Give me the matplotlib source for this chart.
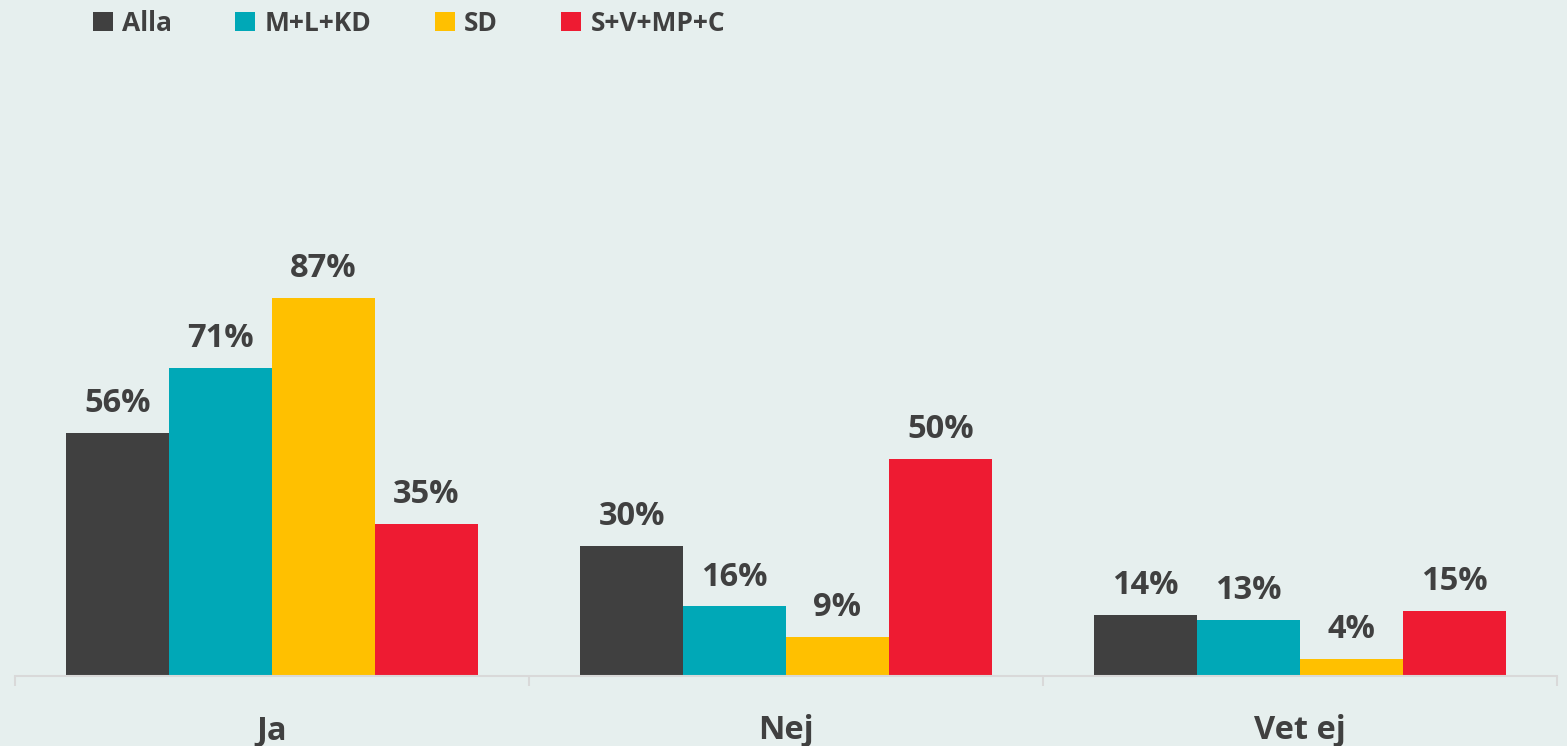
import numpy as np
import matplotlib
matplotlib.use('Agg')
import matplotlib.pyplot as plt
from matplotlib.patches import Patch

categories = ['Ja', 'Nej', 'Vet ej']
groups = ['Alla', 'M+L+KD', 'SD', 'S+V+MP+C']
alla = [56, 30, 14]
mlkd = [71, 16, 13]
sd = [87, 9, 4]
svmpc = [35, 50, 15]
series = [alla, mlkd, sd, svmpc]

colors = ['#404040', '#00A8B7', '#FFC000', '#EE1B32']
bg = '#E6EFEE'
txt = '#404040'

plt.rcParams['font.family'] = ['Open Sans', 'DejaVu Sans']
plt.rcParams['font.weight'] = 'bold'

fig = plt.figure(figsize=(15.67, 7.46), dpi=100, facecolor=bg)
ax = fig.add_axes([15/1567, 70/746, 1542/1567, 676/746])
ax.set_facecolor(bg)

x = np.arange(len(categories))
w = 0.2
for i, (vals, c) in enumerate(zip(series, colors)):
    pos = x + (i - 1.5) * w
    ax.bar(pos, vals, w, color=c, zorder=2)
    for px, v in zip(pos, vals):
        ax.annotate(f'{v}%', (px, v), xytext=(0, 15), textcoords='offset points',
                    ha='center', va='baseline', fontsize=23.5, fontweight='bold', color=txt)

ax.set_xlim(-0.5, 2.5)
ax.set_ylim(0, 155.6)
ax.set_yticks([])
for s in ['top', 'right', 'left']:
    ax.spines[s].set_visible(False)
ax.spines['bottom'].set_color('#D9D9D9')
ax.spines['bottom'].set_linewidth(1.5)
ax.set_xticks([-0.5, 0.5, 1.5, 2.5])
ax.set_xticklabels([])
ax.tick_params(axis='x', length=7.2, width=1.5, color='#D9D9D9')

for i, cat in enumerate(categories):
    ax.annotate(cat, (i, 0), xycoords=('data', 'axes fraction'), xytext=(0, -45.4),
                textcoords='offset points', ha='center', va='baseline',
                fontsize=23.5, fontweight='bold', color=txt, annotation_clip=False)

handles = [Patch(facecolor=c, edgecolor='none') for c in colors]
leg = fig.legend(handles, groups, loc='upper left', bbox_to_anchor=(82/1567, 1 + 1/746),
                 ncol=4, frameon=False, fontsize=19, handlelength=0.76, handleheight=0.76,
                 handletextpad=0.35, columnspacing=2.4, borderaxespad=0)
for t in leg.get_texts():
    t.set_color(txt)
    t.set_fontweight('bold')

fig.savefig('out.png', dpi=100, facecolor=bg)
